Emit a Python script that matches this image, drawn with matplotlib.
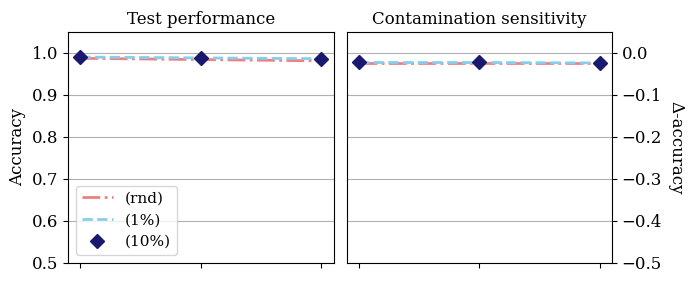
import matplotlib
matplotlib.use("Agg")
import matplotlib.pyplot as plt
import numpy as np

plt.rcParams['font.family'] = 'DejaVu Serif'
plt.rcParams['font.size'] = 12

x = [0, 1, 2]
labels = ['(rnd)', '(1%)', '(10%)']
acc_rnd = [0.987, 0.984, 0.981]
acc_1 = [0.990, 0.988, 0.986]
acc_10 = [0.990, 0.988, 0.985]
d_rnd = [-0.025, -0.025, -0.025]
d_1 = [-0.023, -0.023, -0.024]
d_10 = [-0.022, -0.021, -0.023]

fig, (ax1, ax2) = plt.subplots(1, 2, figsize=(6.97, 2.82), dpi=100)

for ax, a, b, c in [(ax1, acc_rnd, acc_1, acc_10), (ax2, d_rnd, d_1, d_10)]:
    ax.plot(x, a, color='lightcoral', ls='-.', lw=2, label=labels[0])
    ax.plot(x, b, color='skyblue', ls='--', lw=2, label=labels[1])
    ax.plot(x, c, color='midnightblue', ls='none', marker='D', ms=7, label=labels[2])
    ax.grid(axis='y', color='#b0b0b0')
    ax.set_axisbelow(True)
    ax.set_xticks(x)
    ax.set_xticklabels([])

ax1.set_ylim(0.5, 1.05)
ax1.set_title('Test performance', fontsize=12)
ax1.set_ylabel('Accuracy')
ax1.legend(loc='lower left', fontsize=11)

ax2.set_ylim(-0.5, 0.05)
ax2.set_title('Contamination sensitivity', fontsize=12)
ax2.yaxis.tick_right()
ax2.yaxis.set_label_position('right')
ax2.set_ylabel('Δ-accuracy', rotation=270, labelpad=16)

plt.subplots_adjust(left=0.098, right=0.878, top=0.887, bottom=0.068, wspace=0.05)
plt.savefig('out.png')
